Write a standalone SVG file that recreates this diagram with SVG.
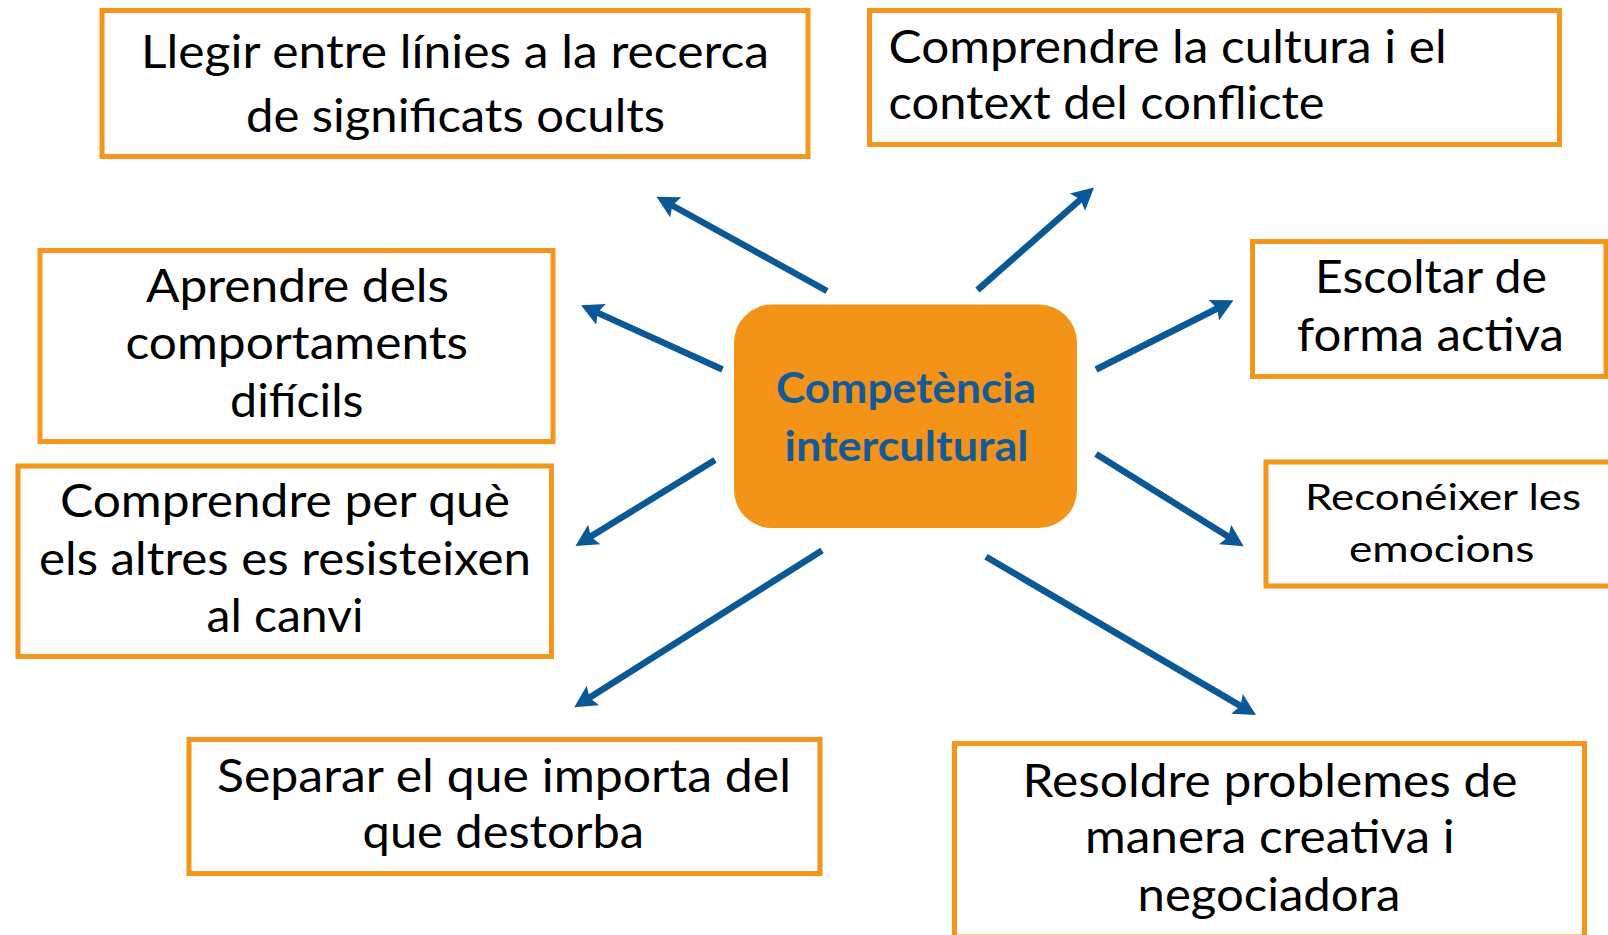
<svg xmlns="http://www.w3.org/2000/svg" width="1608" height="935" viewBox="0 0 1608 935">
<style>
.box{fill:#FFFFFF;stroke:#F4961B;stroke-width:5}
.t{font-family:Lato,"Open Sans","Liberation Sans",sans-serif;font-size:46px;fill:#000000}
.m{text-anchor:middle}
.s{font-size:37px}
.c{font-family:Lato,"Open Sans","Liberation Sans",sans-serif;font-size:42px;font-weight:bold;fill:#145A98;text-anchor:middle}
.ar{stroke:#0B5896;stroke-width:6.5;fill:none;marker-end:url(#ah)}
</style>
<defs>
<marker id="ah" markerUnits="userSpaceOnUse" viewBox="0 -15 30 30" markerWidth="30" markerHeight="30" refX="6" refY="0" orient="auto">
<path d="M0,-11.5 L22,0 L0,11.5 L4,0 Z" fill="#0B5896"/>
</marker>
</defs>
<rect width="1608" height="935" fill="#FFFFFF"/>
<g id="connectors">
<line class="ar" x1="827" y1="291" x2="670.5" y2="204.5"/>
<line class="ar" x1="722.5" y1="369.5" x2="595.6" y2="311.9"/>
<line class="ar" x1="715" y1="460" x2="589.1" y2="537.6"/>
<line class="ar" x1="822" y1="550.5" x2="587.8" y2="698.7"/>
<line class="ar" x1="977.5" y1="290" x2="1082" y2="198.1"/>
<line class="ar" x1="1096" y1="369.5" x2="1219.2" y2="307.5"/>
<line class="ar" x1="1096" y1="454" x2="1230.1" y2="537.8"/>
<line class="ar" x1="986" y1="556.8" x2="1242.2" y2="706.9"/>
</g>
<g id="center">
<rect x="734" y="304.5" width="343" height="223.5" rx="38" ry="38" fill="#F39419"/>
<text class="c" x="906" y="403" textLength="260" lengthAdjust="spacingAndGlyphs">Competència</text>
<text class="c" x="906.5" y="461" textLength="244" lengthAdjust="spacingAndGlyphs">intercultural</text>
</g>
<g id="n1">
<rect class="box" x="102" y="10.5" width="706" height="146"/>
<text class="t m" x="455" y="68" textLength="628" lengthAdjust="spacingAndGlyphs">Llegir entre línies a la recerca</text>
<text class="t m" x="455.5" y="132" textLength="419" lengthAdjust="spacingAndGlyphs">de significats ocults</text>
</g>
<g id="n2">
<rect class="box" x="869.5" y="10.5" width="690" height="134"/>
<text class="t" x="888.6" y="62.7" textLength="558" lengthAdjust="spacingAndGlyphs">Comprendre la cultura i el</text>
<text class="t" x="888.6" y="119" textLength="436" lengthAdjust="spacingAndGlyphs">context del conflicte</text>
</g>
<g id="n3">
<rect class="box" x="40" y="250.5" width="513" height="191"/>
<text class="t m" x="297.5" y="301.7" textLength="303" lengthAdjust="spacingAndGlyphs">Aprendre dels</text>
<text class="t m" x="296.8" y="359" textLength="342.5" lengthAdjust="spacingAndGlyphs">comportaments</text>
<text class="t m" x="296.8" y="416.7" textLength="133.5" lengthAdjust="spacingAndGlyphs">difícils</text>
</g>
<g id="n4">
<rect class="box" x="18" y="466" width="533.5" height="190.5"/>
<text class="t m" x="285" y="517" textLength="450" lengthAdjust="spacingAndGlyphs">Comprendre per què</text>
<text class="t m" x="285" y="575" textLength="492" lengthAdjust="spacingAndGlyphs">els altres es resisteixen</text>
<text class="t m" x="285" y="631.7" textLength="157" lengthAdjust="spacingAndGlyphs">al canvi</text>
</g>
<g id="n5">
<rect class="box" x="189" y="739.5" width="631" height="134"/>
<text class="t m" x="504" y="791.7" textLength="574" lengthAdjust="spacingAndGlyphs">Separar el que importa del</text>
<text class="t m" x="503.3" y="848" textLength="281.5" lengthAdjust="spacingAndGlyphs">que destorba</text>
</g>
<g id="n6">
<rect class="box" x="1252.5" y="241.5" width="353.5" height="135"/>
<text class="t m" x="1431" y="293" textLength="232" lengthAdjust="spacingAndGlyphs">Escoltar de</text>
<text class="t m" x="1430.5" y="350.7" textLength="267" lengthAdjust="spacingAndGlyphs">forma activa</text>
</g>
<g id="n7">
<rect class="box" x="1266" y="462" width="400" height="124"/>
<text class="t s m" x="1443" y="510" textLength="276" lengthAdjust="spacingAndGlyphs">Reconéixer les</text>
<text class="t s m" x="1441.7" y="561.7" textLength="185.5" lengthAdjust="spacingAndGlyphs">emocions</text>
</g>
<g id="n8">
<rect class="box" x="954.5" y="743.5" width="630" height="193.5"/>
<text class="t m" x="1270" y="796.7" textLength="494.8" lengthAdjust="spacingAndGlyphs">Resoldre problemes de</text>
<text class="t m" x="1269.8" y="853" textLength="369.6" lengthAdjust="spacingAndGlyphs">manera creativa i</text>
<text class="t m" x="1269" y="910.7" textLength="263" lengthAdjust="spacingAndGlyphs">negociadora</text>
</g>
</svg>
